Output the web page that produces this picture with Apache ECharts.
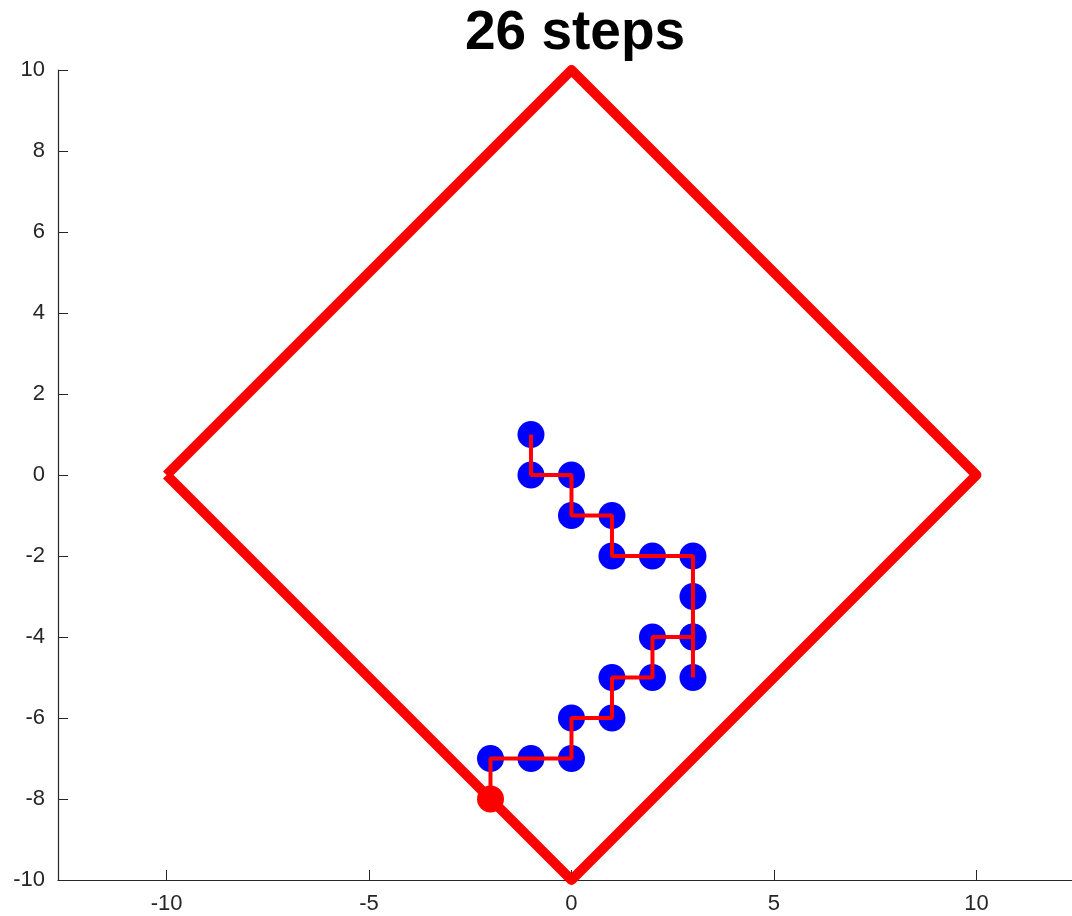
<!DOCTYPE html>
<html><head><meta charset="utf-8">
<script src="https://cdn.jsdelivr.net/npm/echarts@6/dist/echarts.min.js"></script>
<style>html,body{margin:0;padding:0;background:#fff}#c{width:1072px;height:916px}</style>
</head><body><div id="c"></div>
<script>
const titleText = '26 steps';
const diamondX = [-10, 0, 10, 0, -10];
const diamondY = [0, 10, 0, -10, 0];
const walkX = [-1, -1, 0, 0, 1, 1, 2, 3, 3, 3, 3, 3, 2, 2, 1, 1, 0, 0, -1, -2, -2];
const walkY = [1, 0, 0, -1, -1, -2, -2, -2, -3, -4, -5, -4, -4, -5, -5, -6, -6, -7, -7, -7, -8];
const xTicks = [-10, -5, 0, 5, 10];
const yTicks = [-10, -8, -6, -4, -2, 0, 2, 4, 6, 8, 10];

const zip = (a, b) => a.map((v, i) => [v, b[i]]);
const walk = zip(walkX, walkY);
const last = walk[walk.length - 1];
const axisCol = '#262626';
const font = 'Liberation Sans, Arial, sans-serif';

const chart = echarts.init(document.getElementById('c'), null, {renderer: 'canvas'});
chart.setOption({
  animation: false,
  title: {text: titleText, left: 570, top: 1, textAlign: 'center',
    textStyle: {fontFamily: font, fontWeight: 'bold', fontSize: 55, color: '#000'}},
  grid: {left: 58, top: 70, width: 1014, height: 810, containLabel: false},
  xAxis: {type: 'value', min: -12.68, max: 12.36,
    axisLine: {onZero: false, lineStyle: {color: axisCol, width: 1.2}},
    splitLine: {show: false},
    axisTick: {inside: true, length: 10, customValues: xTicks, lineStyle: {color: axisCol}},
    axisLabel: {customValues: xTicks, margin: 13, fontFamily: font, fontSize: 22, color: axisCol}},
  yAxis: {type: 'value', min: -10, max: 10, interval: 2,
    axisLine: {show: true, onZero: false, lineStyle: {color: axisCol, width: 1.2}},
    splitLine: {show: false},
    axisTick: {show: true, inside: true, length: 10, customValues: yTicks, lineStyle: {color: axisCol}},
    axisLabel: {customValues: yTicks, margin: 13, fontFamily: font, fontSize: 22, color: axisCol}},
  series: [
    {type: 'scatter', data: walk.slice(0, -1), symbolSize: 27, z: 2,
      itemStyle: {color: '#0000ff', opacity: 1}},
    {type: 'line', data: walk, showSymbol: false, z: 3,
      lineStyle: {color: '#ff0000', width: 4}},
    {type: 'scatter', data: [last], symbolSize: 27, z: 4,
      itemStyle: {color: '#ff0000', opacity: 1}},
    {type: 'line', data: zip(diamondX, diamondY), showSymbol: false, z: 5,
      lineStyle: {color: '#ff0000', width: 10, join: 'round', cap: 'butt'}}
  ]
});
</script></body></html>
